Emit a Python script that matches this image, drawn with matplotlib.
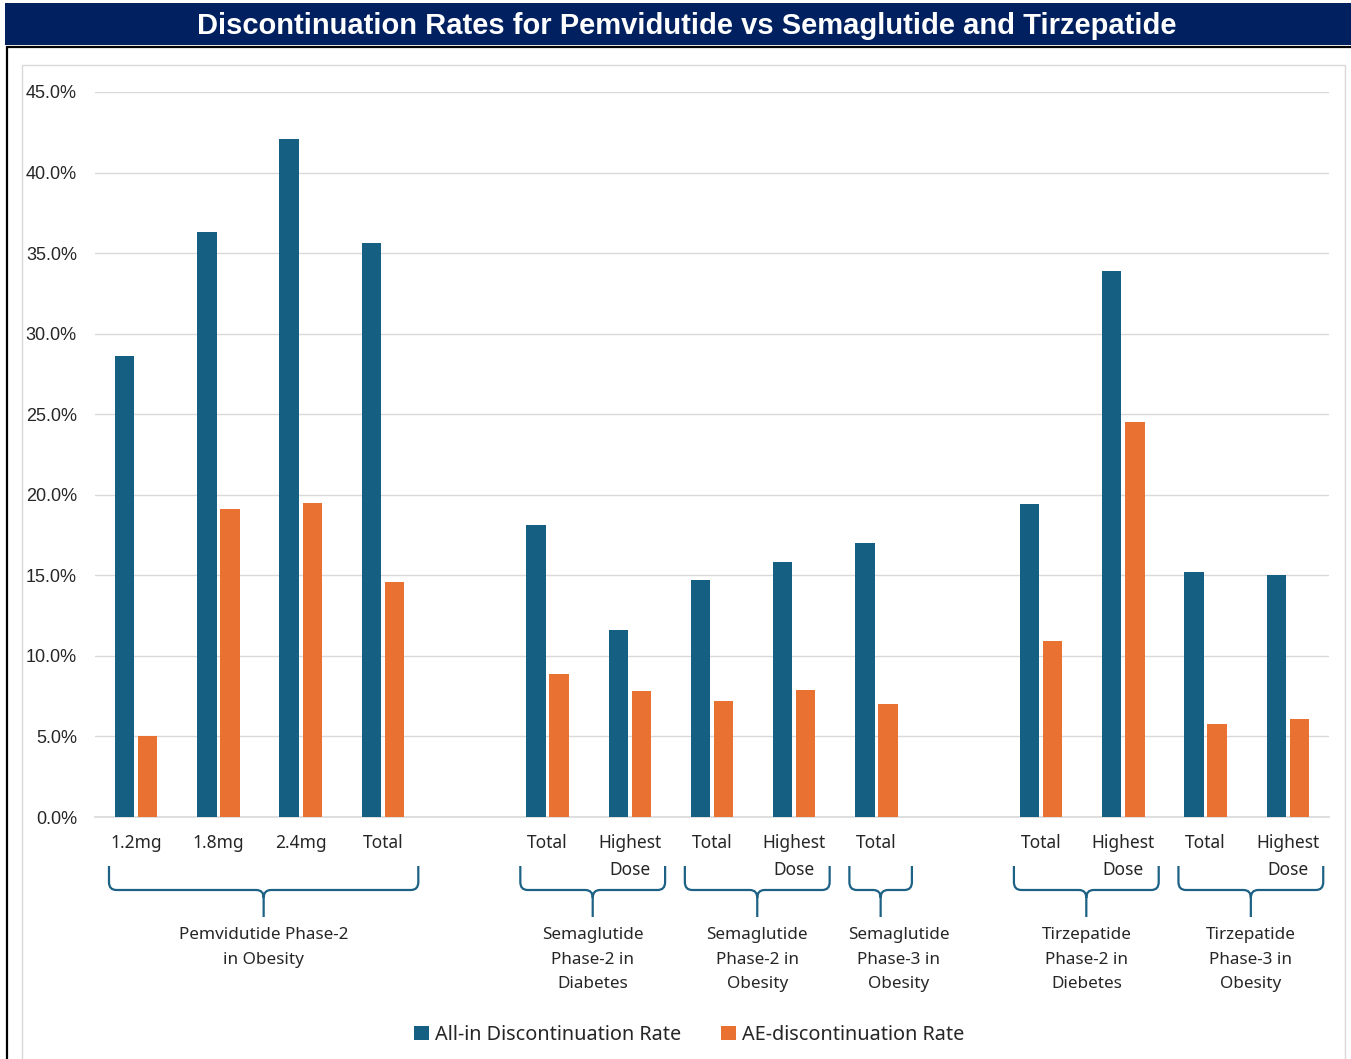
import matplotlib
matplotlib.use('Agg')
import matplotlib.pyplot as plt
import matplotlib.patches as patches
from matplotlib.path import Path
from matplotlib.transforms import blended_transform_factory
import numpy as np

# Data
categories = ['1.2mg', '1.8mg', '2.4mg', 'Total', '',
              'Total', 'Highest\nDose', 'Total', 'Highest\nDose', 'Total', '',
              'Total', 'Highest\nDose', 'Total', 'Highest\nDose']
all_in = [28.6, 36.3, 42.1, 35.6, np.nan,
          18.1, 11.6, 14.7, 15.8, 17.0, np.nan,
          19.4, 33.9, 15.2, 15.0]
ae_rate = [5.0, 19.1, 19.5, 14.6, np.nan,
           8.9, 7.8, 7.2, 7.9, 7.0, np.nan,
           10.9, 24.5, 5.8, 6.1]
group_labels = ['Pemvidutide Phase-2\nin Obesity',
                'Semaglutide\nPhase-2 in\nDiabetes',
                'Semaglutide\nPhase-2 in\nObesity',
                'Semaglutide\nPhase-3 in\nObesity',
                'Tirzepatide\nPhase-2 in\nDiebetes',
                'Tirzepatide\nPhase-3 in\nObesity']
group_spans = [(0, 3), (5, 6), (7, 8), (9, 9), (11, 12), (13, 14)]
series_names = ['All-in Discontinuation Rate', 'AE-discontinuation Rate']

BLUE = '#156082'
ORANGE = '#E97132'
NAVY = '#002060'
BRACE = '#1d6184'
TEXT = '#262626'
LABEL_FONT = ['Noto Sans', 'DejaVu Sans']

fig = plt.figure(figsize=(13.51, 10.59), dpi=100)
fig.patch.set_facecolor('white')

# title bar and frames
fig.patches.append(patches.Rectangle((0.0037, 1 - 45 / 1059), 0.9963, 42 / 1059,
                                     transform=fig.transFigure, facecolor=NAVY,
                                     edgecolor='none', zorder=0))
fig.patches.append(patches.Rectangle((7 / 1351, -0.01), 1.0, 1 - 47 / 1059 + 0.01,
                                     transform=fig.transFigure, facecolor='white',
                                     edgecolor='black', linewidth=1.6, zorder=0))
fig.patches.append(patches.Rectangle((22 / 1351, -0.01), 1323 / 1351, 1 - 65 / 1059 + 0.01,
                                     transform=fig.transFigure, facecolor='white',
                                     edgecolor='#d9d9d9', linewidth=1.0, zorder=0))
fig.text(0.508, 1 - 26 / 1059, 'Discontinuation Rates for Pemvidutide vs Semaglutide and Tirzepatide',
         ha='center', va='center', color='white', fontsize=21, fontweight='bold',
         family='Liberation Sans')

ax = fig.add_axes([95 / 1351, 1 - 817 / 1059, (1329 - 95) / 1351, (817 - 92) / 1059])
ax.set_zorder(2)
ax.patch.set_alpha(0)
x = np.arange(len(categories))
w = 0.235
ax.bar(x - 0.14, all_in, w, color=BLUE, label=series_names[0], zorder=3)
ax.bar(x + 0.14, ae_rate, w, color=ORANGE, label=series_names[1], zorder=3)

ax.set_xlim(-0.5, len(categories) - 0.5)
ax.set_ylim(0, 45)
ax.set_yticks(np.arange(0, 46, 5))
ax.set_yticklabels([f'{v:.1f}%' for v in np.arange(0, 46, 5)],
                   family='Liberation Sans', fontsize=13, color=TEXT)
ax.set_xticks(x)
ax.set_xticklabels(categories, family=LABEL_FONT, fontsize=12.5, color=TEXT,
                   linespacing=1.7, va='top')
ax.tick_params(axis='y', length=0, pad=13)
ax.tick_params(axis='x', length=0, pad=12)
ax.grid(axis='y', color='#d9d9d9', linewidth=1.0, zorder=0)
for s in ['top', 'right', 'left']:
    ax.spines[s].set_visible(False)
ax.spines['bottom'].set_color('#d9d9d9')
ax.spines['bottom'].set_linewidth(1.2)

# group braces below the category labels
trans = blended_transform_factory(ax.transData, fig.transFigure)
y_top, y_mid, y_tip = 1 - 866 / 1059, 1 - 890 / 1059, 1 - 917 / 1059
rx, ry = 0.09, 0.0075
for (a, b), label in zip(group_spans, group_labels):
    x0, x1 = a - 0.33, b + 0.43
    xm = (x0 + x1) / 2
    verts = [(x0, y_top), (x0, y_mid + ry), (x0, y_mid), (x0 + rx, y_mid),
             (xm - rx, y_mid), (xm, y_mid), (xm, y_mid - ry), (xm, y_tip),
             (xm, y_mid - ry), (xm, y_mid), (xm + rx, y_mid),
             (x1 - rx, y_mid), (x1, y_mid), (x1, y_mid + ry), (x1, y_top)]
    codes = [Path.MOVETO, Path.LINETO, Path.CURVE3, Path.CURVE3,
             Path.LINETO, Path.CURVE3, Path.CURVE3, Path.LINETO,
             Path.MOVETO, Path.CURVE3, Path.CURVE3,
             Path.LINETO, Path.CURVE3, Path.CURVE3, Path.LINETO]
    fig.patches.append(patches.PathPatch(Path(verts, codes), transform=trans,
                                         facecolor='none', edgecolor=BRACE,
                                         linewidth=1.6))
    tx = xm + (0.22 if a == b else 0.0)
    fig.text(tx, 1 - 927 / 1059, label, transform=trans, ha='center', va='top',
             fontsize=12.3, color=TEXT, family=LABEL_FONT, linespacing=1.72)

fig.legend(loc='center', bbox_to_anchor=(0.51, 1 - 1035 / 1059), ncol=2,
           frameon=False, handlelength=0.75, handleheight=0.75, handletextpad=0.3,
           columnspacing=2.0, prop={'family': LABEL_FONT, 'size': 14.3},
           labelcolor=TEXT)

fig.savefig('out.png', dpi=100, facecolor='white')
